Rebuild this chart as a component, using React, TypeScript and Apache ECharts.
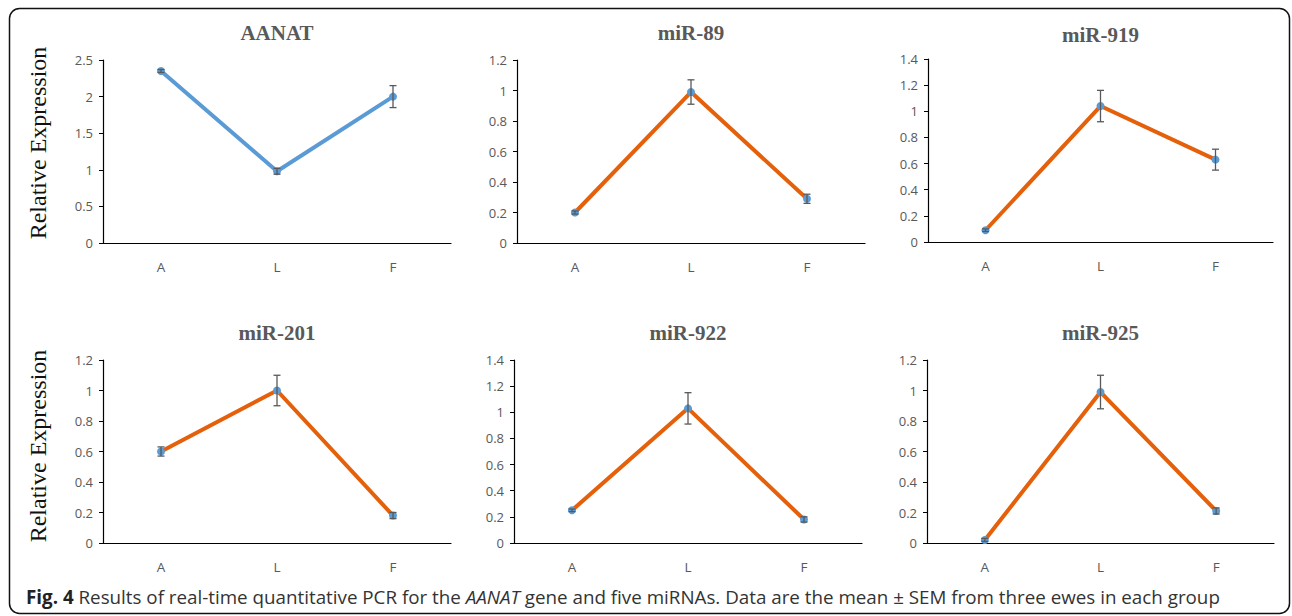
import React, { useEffect, useRef } from "react";
import * as echarts from "echarts";

const categories = ["A", "L", "F"];
const titles = ["AANAT", "miR-89", "miR-919", "miR-201", "miR-922", "miR-925"];

const aanatMean = [2.35, 0.98, 2.0];
const aanatSem = [0.02, 0.04, 0.15];
const mir89Mean = [0.2, 0.99, 0.29];
const mir89Sem = [0.01, 0.08, 0.03];
const mir919Mean = [0.09, 1.04, 0.63];
const mir919Sem = [0.01, 0.12, 0.08];
const mir201Mean = [0.6, 1.0, 0.18];
const mir201Sem = [0.03, 0.1, 0.02];
const mir922Mean = [0.25, 1.03, 0.18];
const mir922Sem = [0.01, 0.12, 0.02];
const mir925Mean = [0.02, 0.99, 0.21];
const mir925Sem = [0.01, 0.11, 0.02];

const yMax = [2.5, 1.2, 1.4, 1.2, 1.4, 1.2];
const yStep = [0.5, 0.2, 0.2, 0.2, 0.2, 0.2];

const yAxisTitle = "Relative Expression";
const captionBold = "Fig. 4";
const captionPart1 = " Results of real-time quantitative PCR for the ";
const captionItalic = "AANAT";
const captionPart2 = " gene and five miRNAs. Data are the mean ± SEM from three ewes in each group";

const means = [aanatMean, mir89Mean, mir919Mean, mir201Mean, mir922Mean, mir925Mean];
const sems = [aanatSem, mir89Sem, mir919Sem, mir201Sem, mir922Sem, mir925Sem];

const grids = [
  { left: 103, top: 60, width: 348, height: 183 },
  { left: 517, top: 60, width: 348, height: 183 },
  { left: 928, top: 59, width: 345, height: 183 },
  { left: 103, top: 360, width: 348, height: 183 },
  { left: 514, top: 360, width: 348, height: 183 },
  { left: 927, top: 360, width: 347, height: 183 },
];
const titleTops = [22, 22, 24, 322, 322, 322];

const BLUE = "#5B9BD5";
const ORANGE = "#E5600B";
const GREY = "#595959";

export default function App() {
  const ref = useRef<HTMLDivElement>(null);
  useEffect(() => {
    if (!ref.current) return;
    const chart = echarts.init(ref.current, undefined, { renderer: "svg" });
    const series: any[] = [];
    means.forEach((m, i) => {
      series.push({
        type: "line",
        xAxisIndex: i,
        yAxisIndex: i,
        data: m,
        symbol: "circle",
        symbolSize: 8,
        lineStyle: { color: i === 0 ? BLUE : ORANGE, width: 4 },
        itemStyle: { color: BLUE },
        z: 2,
      });
      series.push({
        type: "custom",
        xAxisIndex: i,
        yAxisIndex: i,
        z: 3,
        data: m.map((v, k) => [k, v - sems[i][k], v + sems[i][k]]),
        renderItem: (params: any, api: any) => {
          const x = api.value(0);
          const lo = api.coord([x, api.value(1)]);
          const hi = api.coord([x, api.value(2)]);
          const w = 3.5;
          const st = { stroke: GREY, lineWidth: 1.3 };
          return {
            type: "group",
            children: [
              { type: "line", shape: { x1: lo[0], y1: lo[1], x2: hi[0], y2: hi[1] }, style: st },
              { type: "line", shape: { x1: lo[0] - w, y1: lo[1], x2: lo[0] + w, y2: lo[1] }, style: st },
              { type: "line", shape: { x1: hi[0] - w, y1: hi[1], x2: hi[0] + w, y2: hi[1] }, style: st },
            ],
          };
        },
      });
    });

    const option: any = {
      animation: false,
      title: titles.map((t, i) => ({
        text: t,
        left: grids[i].left + grids[i].width / 2,
        top: titleTops[i],
        textAlign: "center",
        padding: 0,
        textStyle: {
          fontFamily: "Liberation Serif",
          fontWeight: "bold",
          fontSize: 21,
          color: GREY,
        },
      })),
      grid: grids.map((g) => ({ ...g, containLabel: false })),
      xAxis: grids.map((g, i) => ({
        type: "category",
        gridIndex: i,
        data: categories,
        boundaryGap: true,
        axisLine: { lineStyle: { color: "#000", width: 1.2 } },
        axisTick: { show: false },
        axisLabel: { color: GREY, fontFamily: "Open Sans", fontSize: 13.5, margin: 17 },
        splitLine: { show: false },
      })),
      yAxis: grids.map((g, i) => ({
        type: "value",
        gridIndex: i,
        min: 0,
        max: yMax[i],
        interval: yStep[i],
        axisLine: { show: true, lineStyle: { color: "#000", width: 1.2 } },
        axisTick: { show: true, length: 4, lineStyle: { color: "#000" } },
        axisLabel: { color: GREY, fontFamily: "Open Sans", fontSize: 13, margin: 10 },
        splitLine: { show: false },
      })),
      series,
      graphic: [
        {
          type: "rect",
          shape: { x: 9.5, y: 8.5, width: 1280, height: 605, r: 10 },
          style: { fill: "none", stroke: "#111", lineWidth: 1.5 },
          silent: true,
        },
        {
          type: "text",
          x: 38,
          y: 143,
          rotation: Math.PI / 2,
          style: {
            text: yAxisTitle,
            fontFamily: "Liberation Serif",
            fontSize: 24,
            fill: "#111",
            align: "center",
            verticalAlign: "middle",
          },
        },
        {
          type: "text",
          x: 38,
          y: 446,
          rotation: Math.PI / 2,
          style: {
            text: yAxisTitle,
            fontFamily: "Liberation Serif",
            fontSize: 24,
            fill: "#111",
            align: "center",
            verticalAlign: "middle",
          },
        },
        {
          type: "text",
          x: 26,
          y: 597,
          style: {
            text: "{b|" + captionBold + "}{n|" + captionPart1 + "}{i|" + captionItalic + "}{n|" + captionPart2 + "}",
            verticalAlign: "middle",
            align: "left",
            rich: {
              b: { fontFamily: "Open Sans", fontWeight: "bold", fontSize: 18.8, fill: "#222" },
              n: { fontFamily: "Open Sans", fontSize: 18.8, fill: "#333" },
              i: { fontFamily: "Open Sans", fontStyle: "italic", fontSize: 18.8, fill: "#333" },
            },
          },
        },
      ],
    };
    chart.setOption(option);
    return () => chart.dispose();
  }, []);
  return (
    <div
      ref={ref}
      style={{ position: "fixed", left: 0, top: 0, width: 1292, height: 616, background: "#fff" }}
    />
  );
}
